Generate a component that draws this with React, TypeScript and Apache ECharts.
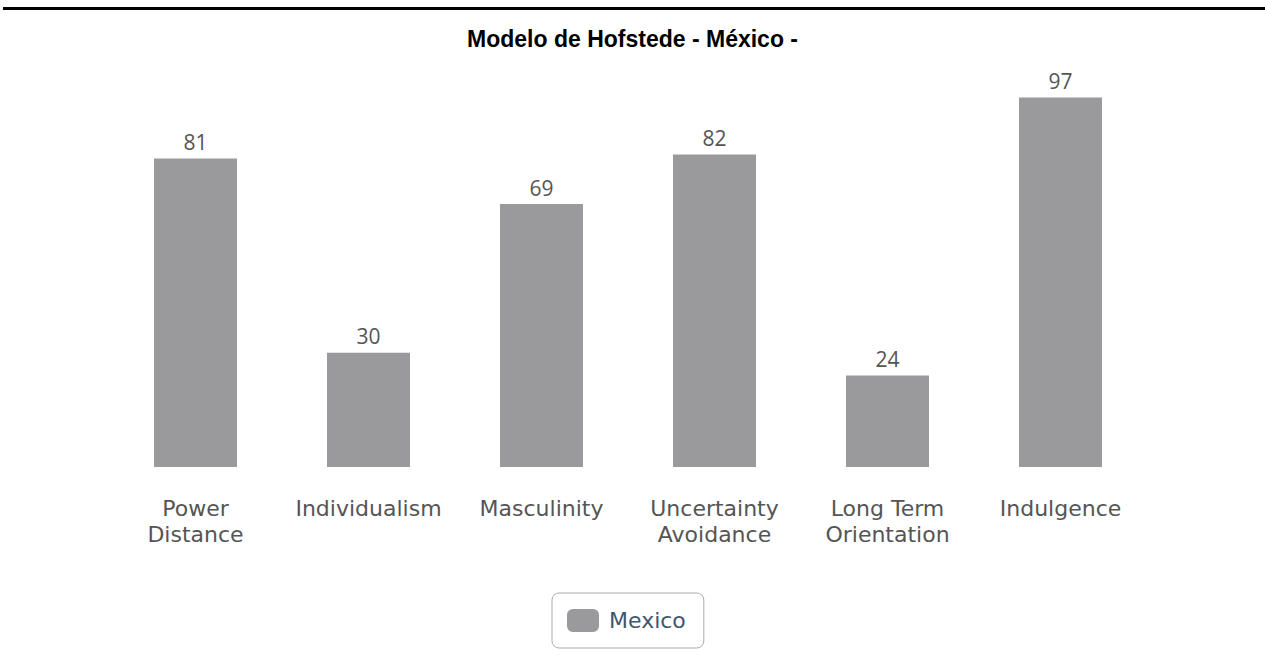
import React, { useEffect, useRef } from "react";
import * as echarts from "echarts";

const categories = ["Power\nDistance", "Individualism", "Masculinity", "Uncertainty\nAvoidance", "Long Term\nOrientation", "Indulgence"];
const mexicoValues = [81, 30, 69, 82, 24, 97];
const seriesName = "Mexico";
const titleText = "Modelo de Hofstede - México -";

export default function App() {
  const ref = useRef<HTMLDivElement>(null);
  useEffect(() => {
    document.body.style.margin = "0";
    const chart = echarts.init(ref.current!, undefined, { renderer: "svg" });
    chart.setOption({
      animation: false,
      title: {
        text: titleText,
        left: "center",
        top: 22,
        textStyle: { fontFamily: "Liberation Sans, Arial", fontWeight: "bold", fontSize: 23, color: "#000" },
      },
      graphic: [
        { type: "rect", shape: { x: 3, y: 7, width: 1262, height: 3 }, style: { fill: "#000" } },
      ],
      grid: { left: 109, right: 118, top: 86, bottom: 195, containLabel: false },
      xAxis: {
        type: "category",
        data: categories,
        axisLine: { show: false },
        axisTick: { show: false },
        axisLabel: {
          interval: 0,
          margin: 28,
          fontFamily: "DejaVu Sans",
          fontSize: 22,
          lineHeight: 26,
          color: "#555",
        },
      },
      yAxis: { type: "value", min: 0, max: 100, show: false, splitLine: { show: false } },
      legend: {
        bottom: 14,
        left: 552,
        data: [seriesName],
        borderColor: "#aaaaaa",
        borderWidth: 1,
        borderRadius: 7,
        padding: [16, 18, 16, 15],
        itemWidth: 32,
        itemHeight: 23,
        itemGap: 10,
        textStyle: { fontFamily: "DejaVu Sans", fontSize: 22, color: "#3e576f", padding: [0, 0, 0, 5] },
        icon: "roundRect",
      },
      series: [
        {
          name: seriesName,
          type: "bar",
          data: mexicoValues,
          barWidth: 83,
          itemStyle: { color: "#9a999b" },
          label: {
            show: true,
            position: "top",
            distance: 6,
            fontFamily: "Open Sans",
            fontSize: 21,
            color: "#555",
          },
        },
      ],
    });
    return () => chart.dispose();
  }, []);
  return <div ref={ref} style={{ width: 1265, height: 662 }} />;
}
